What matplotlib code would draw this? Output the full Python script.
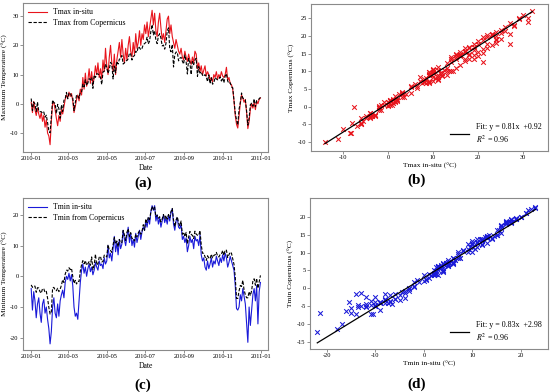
import numpy as np
import pandas as pd
import matplotlib
matplotlib.use("Agg")
import matplotlib.pyplot as plt
import matplotlib.dates as mdates

plt.rcParams['font.family'] = ['Liberation Serif', 'DejaVu Serif']
plt.rcParams['mathtext.fontset'] = 'stix'
plt.rcParams['axes.unicode_minus'] = False

# daily values sampled every 2 days, 2010-01-01 .. 2010-12-31
tmax_insitu = [
    0.5, -3, 0.8, -2, -4, -1.5, -3.5, -5, -3, -6, -4, -8, -5.5, -10, -11, -14,
    -6, 0, 0.5, -2, -5, -7.5, -4, -6, -2, -3.5, -1, 1.5, 3, 2,
    4, 2.5, 3.5, 1, -3, -1, 1.5, 3, 1, 5, 3, 9, 5, 10.5, 6, 8,
    12, 7, 11, 6.5, 9, 13, 10, 14, 9, 12, 8.5, 15, 11, 19, 13,
    10, 16, 20, 14, 11, 17, 10, 15, 18, 21, 16, 22, 17, 14, 19,
    15, 20, 23, 18, 16, 21, 17, 24, 19, 21, 25, 20, 24, 22, 27,
    24, 28, 23, 26, 29, 32, 27, 31, 25, 23, 28, 31, 26, 22, 24, 21,
    25, 29, 30, 24, 27, 23, 21, 19, 22, 20, 18, 17, 19, 16, 15,
    18, 16, 14.5, 17, 15, 13.5, 16, 14, 18, 17, 12, 14, 11, 13, 10,
    11.5, 13, 9.5, 11, 10, 8, 9, 7.5, 10, 9, 11, 8.5, 10, 9, 11, 9.5,
    9, 10, 12.5, 8, 9, 7, 6.5, 5, 1, -4, -7, -8.3, -4, 0, 3,
    2, 0.5, 1.5, -3, -8.5, -6, -2, 0, -1.5, 0.5, -2, 1, 0, 1.5, 2,
]
tmax_copernicus = [
    1.8, -2.3, 0.6, -0.1, -2.6, 0.6, -2.5, -2.7, -2.7, -3.2, -2.8, -4.6, -3.9, -6.4, -9.2, -9.9,
    -4.5, 1.3, 0.4, 0.1, -3.3, -0.2, -1.7, -4.9, -0.4, -2.6, 1.2, 1.7, 3.9, 1.7,
    3.7, 3.6, 2.7, 2.1, -2.3, 0.4, 3.0, 2.8, 1.9, 4.0, 4.1, 6.7, 5.8, 8.2, 6.3, 7.1,
    8.6, 8.3, 9.0, 5.3, 9.8, 9.0, 10.3, 10.2, 9.9, 9.0, 6.6, 10.9, 11.2, 13.6, 12.4,
    10.4, 11.8, 14.2, 13.6, 8.5, 12.9, 10.6, 14.5, 13.6, 15.3, 15.4, 16.5, 13.6, 14.0, 14.7,
    14.8, 15.4, 17.4, 17.0, 15.0, 16.2, 16.5, 18.0, 17.6, 19.6, 19.2, 18.5, 19.0, 20.3, 20.6,
    21.0, 22.8, 20.5, 21.5, 24.8, 27.1, 23.6, 25.0, 21.8, 20.6, 23.2, 24.0, 22.5, 19.8, 20.1, 18.7,
    20.7, 25.0, 26.0, 18.9, 17.8, 20.3, 12.6, 16.8, 17.7, 17.7, 14.7, 15.6, 15.9, 14.6, 13.6,
    16.7, 14.4, 10.2, 15.5, 14.1, 10.0, 14.5, 13.4, 15.0, 15.6, 9.4, 12.7, 10.5, 10.9, 9.8,
    9.4, 10.0, 9.2, 7.6, 9.9, 6.9, 8.9, 6.7, 7.2, 9.0, 8.5, 8.2, 8.4, 9.2, 7.8, 8.9,
    7.2, 9.5, 10.3, 7.8, 7.0, 7.2, 5.8, 5.5, 1.1, -3.2, -5.5, -7.3, -1.9, 0.4, 3.7,
    1.9, 1.8, 1.3, -2.4, -7.3, -4.9, -0.3, 0.2, -0.8, 1.7, -1.0, 1.1, 1.4, 1.7, 2.2,
]
tmin_insitu = [
    -4, -11, -5, -8, -13.5, -9, -7, -12, -15, -9, -7.5, -12, -10, -14, -17, -22,
    -18, -10, -7, -12, -13.5, -9, -13, -8, -6, -4.5, -7, -2, 0, -1,
    1, -1.5, 0.5, -3, -10, -13, -12, -14, -8, -2, 2, 4, 1, 3, 0, 2.5,
    4, 1.5, 3, 0.5, 2, 4.5, 3, 2, 5, 3.5, 4, 2.5, 6, 4, 5,
    10, 6, 7.5, 5, 9, 13, 8, 11, 7, 12, 9, 10.5, 15, 12, 10,
    13, 16, 11, 14, 10, 12, 9.5, 14, 11, 13, 15, 12, 14.5, 16, 15,
    18, 16, 19, 17, 21, 23, 21.5, 23, 18, 20, 17, 19, 16, 18, 20, 17.5,
    19, 17, 20, 18, 21, 22, 17, 15, 18, 19, 16, 15.5, 17, 12, 13,
    11, 12.5, 8, 10, 13, 11, 12, 9, 13, 11.5, 12, 10, 13.5, 7, 5,
    6, 3, 2, 5, 2.5, 4, 6, 3, 5, 4, 6.5, 5, 3.5, 6, 4.5, 7,
    5, 7.5, 6, 3, 4.5, 6.5, 5, 3.5, 2, -3, -10.5, -11, -10, -6, -8,
    -4, -6.5, -9, -15, -21.5, -10, -16, -11, -6, -4, -8, -3, -15.5, -5, -2,
]
tmin_copernicus = [
    -2.8, -3.6, -3.2, -3.2, -5.2, -3.7, -3.8, -5.0, -5.5, -4.0, -4.1, -5.2, -4.9, -7.1, -10.1, -12.3,
    -11.5, -3.8, -3.6, -4.5, -4.7, -3.9, -5.0, -4.2, -2.9, -1.1, -2.0, 0.7, 2.0, 1.7,
    2.8, 2.2, 2.6, 0.0, -2.3, -1.3, -2.5, -1.6, -1.7, 1.8, 3.8, 5.1, 4.1, 5.1, 3.6, 4.1,
    4.8, 3.6, 6.3, 2.2, 3.6, 7.2, 3.7, 4.2, 6.2, 6.5, 4.7, 4.8, 6.9, 6.7, 6.3,
    10.3, 8.5, 8.4, 7.8, 10.1, 12.6, 10.5, 11.5, 9.6, 12.0, 11.0, 11.0, 14.9, 13.5, 11.7,
    14.3, 15.5, 13.0, 14.2, 12.3, 12.4, 11.5, 13.7, 12.8, 14.1, 14.8, 13.7, 14.7, 16.8, 15.0,
    18.7, 17.5, 19.3, 18.5, 21.0, 22.8, 21.8, 22.5, 19.4, 19.9, 18.9, 19.4, 17.7, 18.7, 20.1, 18.7,
    19.8, 18.6, 20.1, 19.1, 21.0, 22.1, 18.4, 16.2, 18.3, 19.4, 17.4, 16.4, 18.0, 13.7, 14.4,
    12.9, 14.3, 10.6, 12.8, 14.6, 13.7, 13.3, 12.3, 14.7, 13.7, 13.4, 13.3, 14.9, 10.3, 7.5,
    7.5, 6.3, 5.2, 6.7, 6.0, 5.7, 7.2, 6.0, 6.8, 7.0, 7.8, 6.6, 6.3, 7.1, 7.2, 8.4,
    6.8, 8.6, 8.5, 6.1, 7.0, 7.9, 7.5, 5.7, 3.9, -0.3, -7.2, -7.2, -4.8, -3.0, -3.3,
    -1.3, -4.4, -6.0, -7.0, -7.0, -5.0, -6.3, -4.7, -1.5, -0.8, -2.9, -0.7, -3.9, -1.8, 0.3,
]
dates = pd.date_range('2010-01-01', periods=len(tmax_insitu), freq='2D')

# fit coefficients as printed in the legends
fit_max = (0.81, 0.92, 0.96)
fit_min = (0.83, 2.98, 0.96)

RED = '#e8141c'
BLUE = '#1a1ad8'
W, H = 550, 392


def ax_px(fig, l, t, r, b):
    return fig.add_axes([l / W, 1 - b / H, (r - l) / W, (b - t) / H])


def style(ax):
    for s in ax.spines.values():
        s.set_color('#8a8a8a')
        s.set_linewidth(0.8)
    ax.tick_params(labelsize=4.6, length=2, width=0.5, color='#666666', pad=1.2)


def time_panel(ax, obs, cop, color, lab_obs, lab_cop, ylabel, ylim, yticks):
    ax.plot(dates, obs, color=color, lw=0.8, label=lab_obs)
    ax.plot(dates, cop, color='black', lw=0.8, ls=(0, (3, 1.5)), label=lab_cop)
    ax.set_xlim(pd.Timestamp('2009-12-19'), pd.Timestamp('2011-01-12'))
    ax.set_ylim(*ylim)
    ax.set_yticks(yticks)
    ax.xaxis.set_major_locator(mdates.MonthLocator(bymonth=[1, 3, 5, 7, 9, 11]))
    ax.xaxis.set_major_formatter(mdates.DateFormatter('%Y-%m'))
    ax.set_xlabel('Date', fontsize=5.6, labelpad=2)
    ax.set_ylabel(ylabel, fontsize=5.4, labelpad=1.5)
    ax.legend(loc='upper left', fontsize=5.6, frameon=False, handlelength=2.4,
              borderaxespad=0.3, labelspacing=0.3)
    style(ax)


def scatter_panel(ax, obs, cop, color, fit, xlabel, ylabel, xlim, ylim, xticks, yticks):
    obs = np.array(obs)
    cop = np.array(cop)
    ax.scatter(obs, cop, marker='x', s=11, lw=0.75, color=color)
    a, b, r2 = fit
    xs = np.array([obs.min(), obs.max()])
    ax.plot(xs, a * xs + b, color='black', lw=0.9,
            label=f'Fit: y = {a:.2f}x  +{b:.2f}\n$R^2$ = {r2:.2f}')
    ax.set_xlim(*xlim)
    ax.set_ylim(*ylim)
    ax.set_xticks(xticks)
    ax.set_yticks(yticks)
    ax.set_xlabel(xlabel, fontsize=5.4, labelpad=2)
    ax.set_ylabel(ylabel, fontsize=5.4, labelpad=2)
    ax.legend(loc='lower right', fontsize=5.8, frameon=False, handlelength=2.4,
              borderaxespad=0.4)
    style(ax)


fig = plt.figure(figsize=(W / 100, H / 100), dpi=100)

ax_a = ax_px(fig, 23, 3, 268, 152)
time_panel(ax_a, tmax_insitu, tmax_copernicus, RED, 'Tmax in-situ', 'Tmax from Copernicus',
           'Maximum Temperature (°C)', (-16.5, 34.5), [-10, 0, 10, 20, 30])

ax_b = ax_px(fig, 311, 4, 548, 151)
scatter_panel(ax_b, tmax_insitu, tmax_copernicus, RED, fit_max,
              'Tmax in-situ (°C)', 'Tmax Copernicus (°C)',
              (-17.1, 35.5), (-12.5, 29), [-10, 0, 10, 20, 30], [-10, -5, 0, 5, 10, 15, 20, 25])

ax_c = ax_px(fig, 23, 198, 268, 350)
time_panel(ax_c, tmin_insitu, tmin_copernicus, BLUE, 'Tmin in-situ', 'Tmin from Copernicus',
           'Minimum Temperature (°C)', (-24, 25.5), [-20, -10, 0, 10, 20])

ax_d = ax_px(fig, 310, 198, 548, 349)
scatter_panel(ax_d, tmin_insitu, tmin_copernicus, BLUE, fit_min,
              'Tmin in-situ (°C)', 'Tmin Copernicus (°C)',
              (-23.5, 25.6), (-17, 25.3), [-20, -10, 0, 10, 20], [-15, -10, -5, 0, 5, 10, 15, 20])

for lab, x, y in [('(a)', 143, 183), ('(b)', 417, 180), ('(c)', 143, 385), ('(d)', 417, 384)]:
    fig.text(x / W, 1 - y / H, lab, ha='center', va='center', fontsize=11, fontweight='bold')

fig.savefig('out.png', dpi=100)
